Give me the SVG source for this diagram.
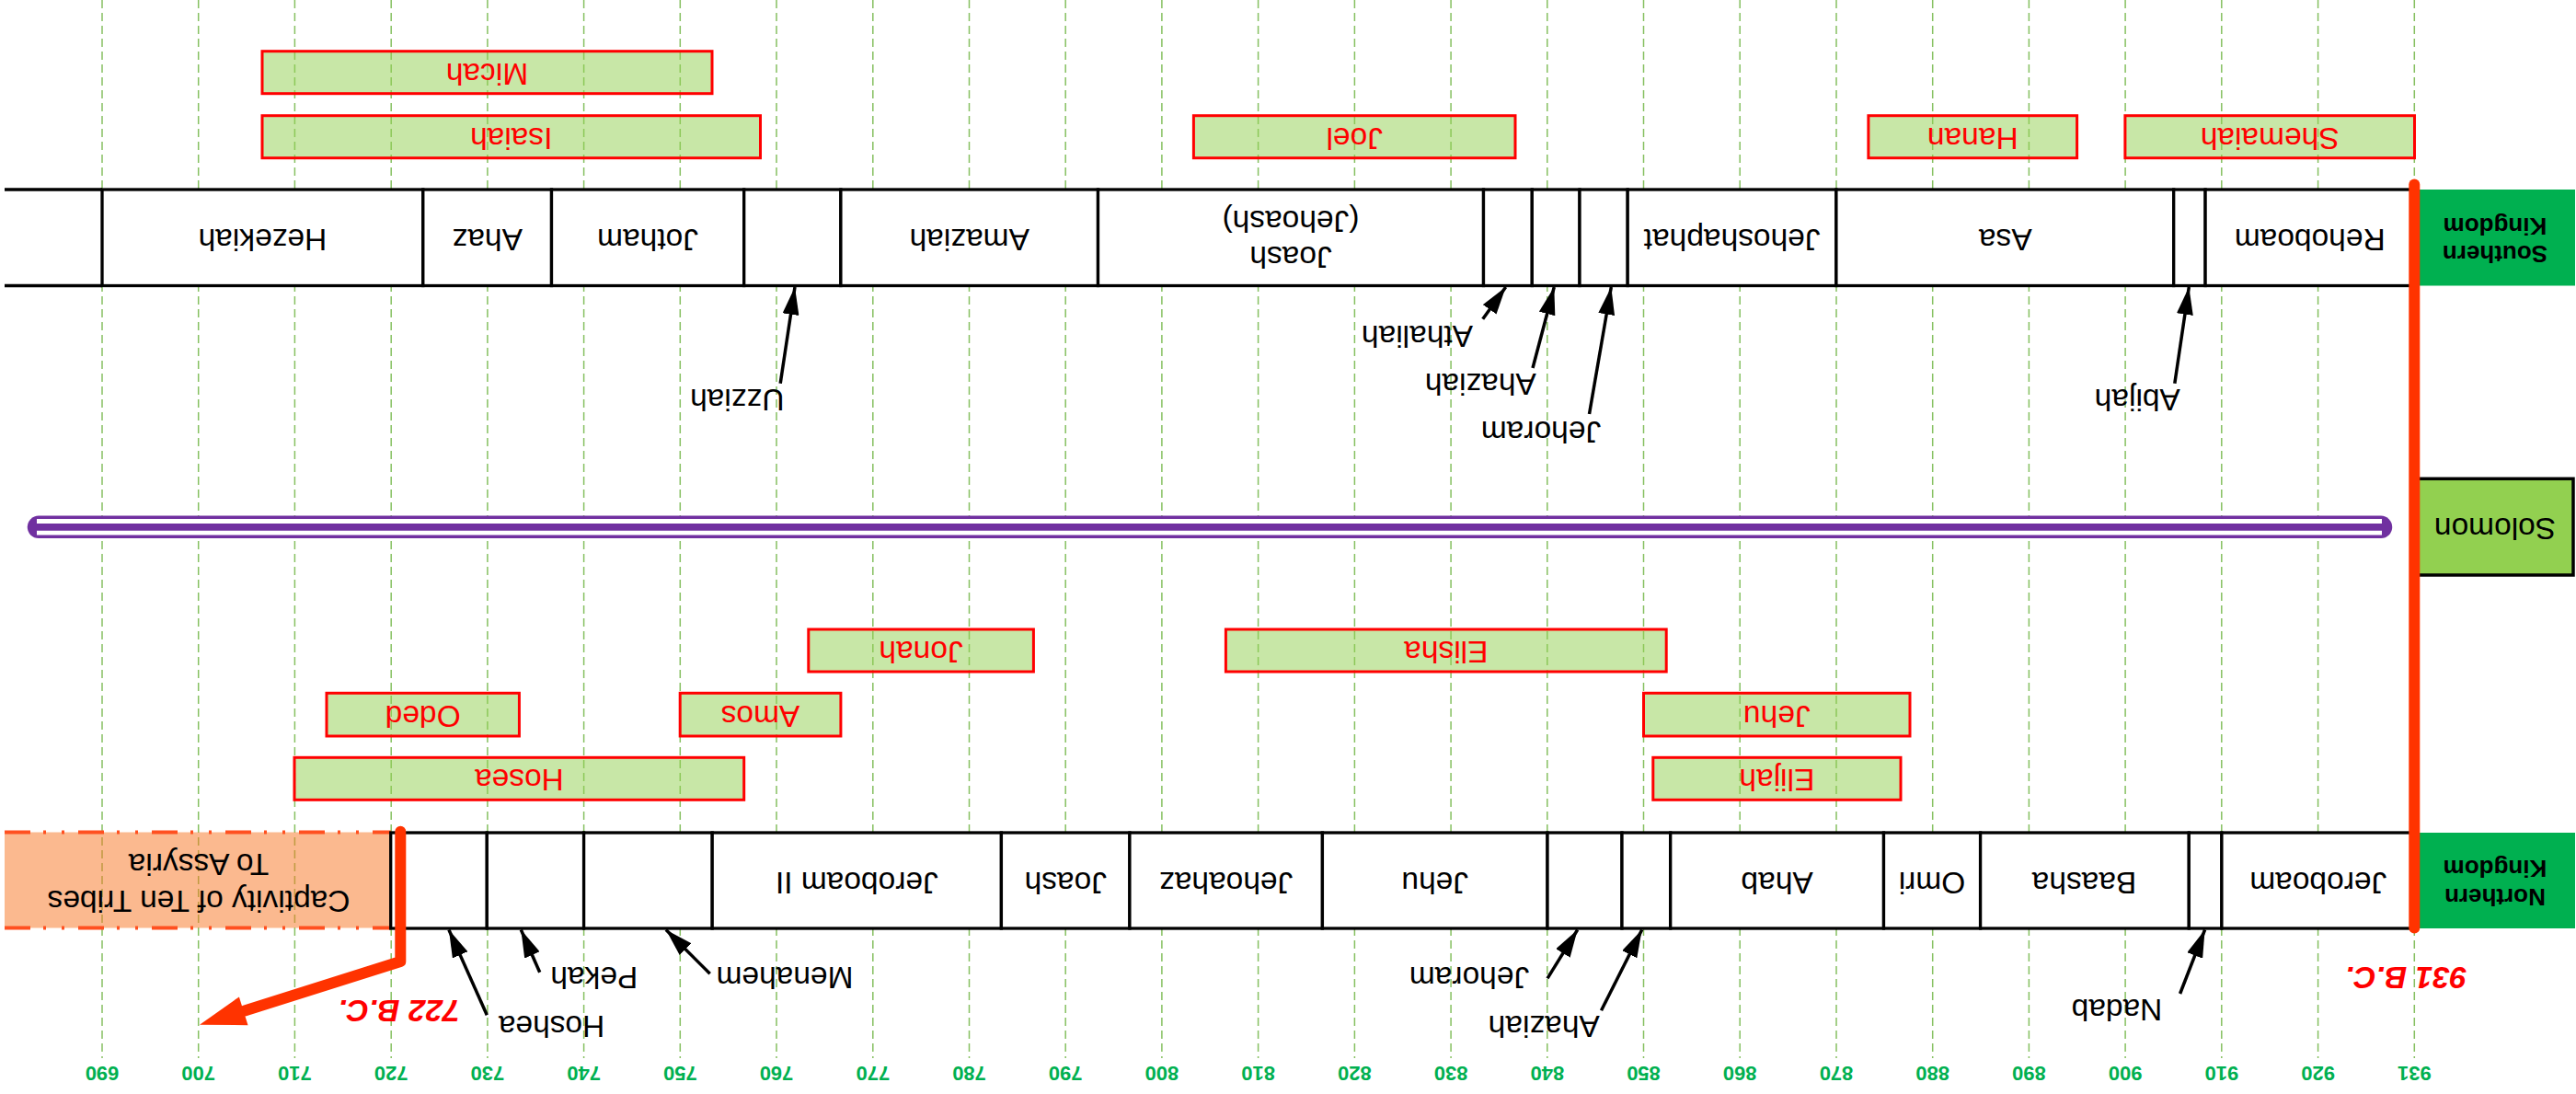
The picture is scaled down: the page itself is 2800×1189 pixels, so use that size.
<svg xmlns="http://www.w3.org/2000/svg" width="2800" height="1189" viewBox="0 0 2800 1189">
<style>
.t{font-family:"Liberation Sans",Arial,sans-serif;font-size:33.5px;text-anchor:middle;fill:#000}
.r{fill:#FF0000}
.yr{font-size:22px;font-weight:bold;fill:#00B050}
.kb{font-size:26px;font-weight:bold}
.bc{font-weight:bold;font-style:italic;fill:#FF0000}
.grid{fill:none;stroke:#86C061;stroke-width:1.5;stroke-dasharray:9 5}
.p{fill:#92D050;fill-opacity:0.5;stroke:#FF0000;stroke-width:3}
.k{fill:#fff;stroke:#000;stroke-width:3.3}
.a{stroke:#000;stroke-width:3.5;marker-end:url(#ah)}
.red{fill:none;stroke:#FF3300;stroke-width:12;stroke-linecap:round;stroke-linejoin:round}
</style>
<defs>
<marker id="ah" markerUnits="userSpaceOnUse" viewBox="0 0 30 18" markerWidth="30" markerHeight="18" refX="30" refY="9" orient="auto"><path d="M0,0 L30,9 L0,18 z" fill="#000"/></marker>
</defs>
<rect width="2800" height="1189" fill="#fff"/>

<!-- grid -->
<g id="grid">
<path class="grid" d="M111 0V1150M215.7 0V1150M320.4 0V1150M425.2 0V1150M529.9 0V1150M634.6 0V1150M739.3 0V1150M844 0V1150M948.8 0V1150M1053.5 0V1150M1158.2 0V1150M1262.9 0V1150M1367.6 0V1150M1472.4 0V1150M1577.1 0V1150M1681.8 0V1150M1786.5 0V1150M1891.2 0V1150M1996 0V1150M2100.7 0V1150M2205.4 0V1150M2310.1 0V1150M2414.8 0V1150M2519.6 0V1150M2624.3 0V1150"/>
<g class="t yr">
<text x="111" y="1174.9" transform="rotate(180 111 1167)">690</text>
<text x="215.7" y="1174.9" transform="rotate(180 215.7 1167)">700</text>
<text x="320.4" y="1174.9" transform="rotate(180 320.4 1167)">710</text>
<text x="425.2" y="1174.9" transform="rotate(180 425.2 1167)">720</text>
<text x="529.9" y="1174.9" transform="rotate(180 529.9 1167)">730</text>
<text x="634.6" y="1174.9" transform="rotate(180 634.6 1167)">740</text>
<text x="739.3" y="1174.9" transform="rotate(180 739.3 1167)">750</text>
<text x="844" y="1174.9" transform="rotate(180 844 1167)">760</text>
<text x="948.8" y="1174.9" transform="rotate(180 948.8 1167)">770</text>
<text x="1053.5" y="1174.9" transform="rotate(180 1053.5 1167)">780</text>
<text x="1158.2" y="1174.9" transform="rotate(180 1158.2 1167)">790</text>
<text x="1262.9" y="1174.9" transform="rotate(180 1262.9 1167)">800</text>
<text x="1367.6" y="1174.9" transform="rotate(180 1367.6 1167)">810</text>
<text x="1472.4" y="1174.9" transform="rotate(180 1472.4 1167)">820</text>
<text x="1577.1" y="1174.9" transform="rotate(180 1577.1 1167)">830</text>
<text x="1681.8" y="1174.9" transform="rotate(180 1681.8 1167)">840</text>
<text x="1786.5" y="1174.9" transform="rotate(180 1786.5 1167)">850</text>
<text x="1891.2" y="1174.9" transform="rotate(180 1891.2 1167)">860</text>
<text x="1996" y="1174.9" transform="rotate(180 1996 1167)">870</text>
<text x="2100.7" y="1174.9" transform="rotate(180 2100.7 1167)">880</text>
<text x="2205.4" y="1174.9" transform="rotate(180 2205.4 1167)">890</text>
<text x="2310.1" y="1174.9" transform="rotate(180 2310.1 1167)">900</text>
<text x="2414.8" y="1174.9" transform="rotate(180 2414.8 1167)">910</text>
<text x="2519.6" y="1174.9" transform="rotate(180 2519.6 1167)">920</text>
<text x="2624.3" y="1174.9" transform="rotate(180 2624.3 1167)">931</text>
</g>
</g>

<!-- prophets -->
<g id="pr-micah"><rect class="p" x="285" y="55.7" width="489" height="46"/><text class="t r" x="529.5" y="92.7" transform="rotate(180 529.5 80.7)">Micah</text></g>
<g id="pr-isaiah"><rect class="p" x="285" y="125.7" width="541.5" height="46"/><text class="t r" x="555.7" y="162.7" transform="rotate(180 555.7 150.7)">Isaiah</text></g>
<g id="pr-joel"><rect class="p" x="1297.4" y="125.7" width="349.6" height="46"/><text class="t r" x="1472.2" y="162.7" transform="rotate(180 1472.2 150.7)">Joel</text></g>
<g id="pr-hanan"><rect class="p" x="2030.9" y="125.7" width="226.7" height="46"/><text class="t r" x="2144.3" y="162.7" transform="rotate(180 2144.3 150.7)">Hanan</text></g>
<g id="pr-shemaiah"><rect class="p" x="2309.9" y="125.7" width="314.6" height="46"/><text class="t r" x="2467.2" y="162.7" transform="rotate(180 2467.2 150.7)">Shemaiah</text></g>
<g id="pr-jonah"><rect class="p" x="878.8" y="684" width="244.6" height="46"/><text class="t r" x="1001.1" y="721" transform="rotate(180 1001.1 709)">Jonah</text></g>
<g id="pr-elisha"><rect class="p" x="1332.4" y="684" width="478.8" height="46"/><text class="t r" x="1571.8" y="721" transform="rotate(180 1571.8 709)">Elisha</text></g>
<g id="pr-amos"><rect class="p" x="739.2" y="753.3" width="174.7" height="46.7"/><text class="t r" x="826.5" y="790.7" transform="rotate(180 826.5 778.7)">Amos</text></g>
<g id="pr-oded"><rect class="p" x="355" y="753.3" width="209.4" height="46.7"/><text class="t r" x="459.7" y="790.7" transform="rotate(180 459.7 778.7)">Oded</text></g>
<g id="pr-jehu"><rect class="p" x="1786.5" y="753.3" width="289.5" height="46.7"/><text class="t r" x="1931.3" y="790.7" transform="rotate(180 1931.3 778.7)">Jehu</text></g>
<g id="pr-hosea"><rect class="p" x="320" y="823.3" width="488.7" height="46"/><text class="t r" x="564.4" y="860.3" transform="rotate(180 564.4 848.3)">Hosea</text></g>
<g id="pr-elijah"><rect class="p" x="1796.8" y="823.3" width="269.2" height="46"/><text class="t r" x="1931.4" y="860.3" transform="rotate(180 1931.4 848.3)">Elijah</text></g>

<!-- captivity -->
<g id="captivity">
<rect x="5" y="904.5" width="420" height="104" fill="#F7741F" fill-opacity="0.5"/>
<path d="M5 904.5H425M5 1008.5H425" fill="none" stroke="#FF5020" stroke-width="4" stroke-dasharray="28 14 3 17 3 15"/>
<text class="t" x="216" y="992" transform="rotate(180 216 980)">Captivity of Ten Tribes</text>
<text class="t" x="216" y="952" transform="rotate(180 216 940)">To Assyria</text>
</g>

<!-- southern kingdom -->
<g id="southern-kingdom">
<rect x="2628" y="206" width="171" height="104.5" fill="#00B050"/>
<text class="t kb" x="2712" y="285.6" transform="rotate(180 2712 276.3)">Southern</text>
<text class="t kb" x="2712" y="255.3" transform="rotate(180 2712 246)">Kingdom</text>
</g>
<g id="s-start"><path d="M5 206H111M5 310.5H111" stroke="#000" stroke-width="3.3"/></g>
<g id="s-hezekiah"><rect class="k" x="111" y="206" width="348.8" height="104.5"/><text class="t" x="285.4" y="272.5" transform="rotate(180 285.4 260.5)">Hezekiah</text></g>
<g id="s-ahaz"><rect class="k" x="459.8" y="206" width="139.7" height="104.5"/><text class="t" x="529.7" y="272.5" transform="rotate(180 529.7 260.5)">Ahaz</text></g>
<g id="s-jotham"><rect class="k" x="599.5" y="206" width="209.2" height="104.5"/><text class="t" x="704.1" y="272.5" transform="rotate(180 704.1 260.5)">Jotham</text></g>
<g id="s-uzziah"><rect class="k" x="808.7" y="206" width="105.2" height="104.5"/><text class="t" x="801.3" y="447" transform="rotate(180 801.3 435)">Uzziah</text></g>
<g id="s-amaziah"><rect class="k" x="913.9" y="206" width="279.6" height="104.5"/><text class="t" x="1053.7" y="272.5" transform="rotate(180 1053.7 260.5)">Amaziah</text></g>
<g id="s-joash"><rect class="k" x="1193.5" y="206" width="419" height="104.5"/><text class="t" x="1403" y="292" transform="rotate(180 1403 280)">Joash</text><text class="t" x="1403" y="253.3" transform="rotate(180 1403 241.3)">(Jehoash)</text></g>
<g id="s-athaliah"><rect class="k" x="1612.5" y="206" width="52.8" height="104.5"/><text class="t" x="1540.5" y="377.5" transform="rotate(180 1540.5 365.5)">Athaliah</text></g>
<g id="s-ahaziah"><rect class="k" x="1665.3" y="206" width="51.7" height="104.5"/><text class="t" x="1609.3" y="430" transform="rotate(180 1609.3 418)">Ahaziah</text></g>
<g id="s-jehoram"><rect class="k" x="1717" y="206" width="52.2" height="104.5"/><text class="t" x="1675" y="482" transform="rotate(180 1675 470)">Jehoram</text></g>
<g id="s-jehoshaphat"><rect class="k" x="1769.2" y="206" width="226.7" height="104.5"/><text class="t" x="1882.6" y="272.5" transform="rotate(180 1882.6 260.5)">Jehoshaphat</text></g>
<g id="s-asa"><rect class="k" x="1995.9" y="206" width="366.8" height="104.5"/><text class="t" x="2179.8" y="272.5" transform="rotate(180 2179.8 260.5)">Asa</text></g>
<g id="s-abijah"><rect class="k" x="2362.7" y="206" width="34.4" height="104.5"/><text class="t" x="2323.3" y="446.6" transform="rotate(180 2323.3 434.6)">Abijah</text></g>
<g id="s-rehoboam"><rect class="k" x="2397.1" y="206" width="226.9" height="104.5"/><text class="t" x="2510.7" y="272.5" transform="rotate(180 2510.7 260.5)">Rehoboam</text></g>

<!-- solomon -->
<g id="solomon-bar">
<line x1="42" y1="572.8" x2="2588" y2="572.8" stroke="#7030A0" stroke-width="24.5" stroke-linecap="round"/>
<line x1="40" y1="572.8" x2="2589" y2="572.8" stroke="#fff" stroke-width="17.5"/>
<line x1="40" y1="572.8" x2="2589" y2="572.8" stroke="#7030A0" stroke-width="7.7"/>
</g>
<g id="solomon">
<rect x="2626" y="520.3" width="171" height="104.7" fill="#92D050" stroke="#000" stroke-width="3.5"/>
<text class="t" x="2712" y="587" transform="rotate(180 2712 575)">Solomon</text>
</g>

<!-- northern kingdom -->
<g id="northern-kingdom">
<rect x="2628" y="905" width="171" height="104" fill="#00B050"/>
<text class="t kb" x="2712" y="984.3" transform="rotate(180 2712 975)">Northern</text>
<text class="t kb" x="2712" y="954" transform="rotate(180 2712 944.7)">Kingdom</text>
</g>
<g id="n-hoshea"><rect class="k" x="424.7" y="905" width="104.6" height="104"/><text class="t" x="599.5" y="1127.8" transform="rotate(180 599.5 1115.8)">Hoshea</text></g>
<g id="n-pekah"><rect class="k" x="529.3" y="905" width="105.3" height="104"/><text class="t" x="645.8" y="1075.3" transform="rotate(180 645.8 1063.3)">Pekah</text></g>
<g id="n-menahem"><rect class="k" x="634.6" y="905" width="139.6" height="104"/><text class="t" x="853" y="1075.3" transform="rotate(180 853 1063.3)">Menahem</text></g>
<g id="n-jeroboam2"><rect class="k" x="774.2" y="905" width="314.2" height="104"/><text class="t" x="931.3" y="971.5" transform="rotate(180 931.3 959.5)">Jeroboam II</text></g>
<g id="n-joash"><rect class="k" x="1088.4" y="905" width="139.5" height="104"/><text class="t" x="1158.2" y="971.5" transform="rotate(180 1158.2 959.5)">Joash</text></g>
<g id="n-jehoahaz"><rect class="k" x="1227.9" y="905" width="209.5" height="104"/><text class="t" x="1332.7" y="971.5" transform="rotate(180 1332.7 959.5)">Jehoahaz</text></g>
<g id="n-jehu"><rect class="k" x="1437.4" y="905" width="244.6" height="104"/><text class="t" x="1559.7" y="971.5" transform="rotate(180 1559.7 959.5)">Jehu</text></g>
<g id="n-jehoram"><rect class="k" x="1682" y="905" width="81" height="104"/><text class="t" x="1597" y="1074.5" transform="rotate(180 1597 1062.5)">Jehoram</text></g>
<g id="n-ahaziah"><rect class="k" x="1763" y="905" width="52.7" height="104"/><text class="t" x="1678.2" y="1127.8" transform="rotate(180 1678.2 1115.8)">Ahaziah</text></g>
<g id="n-ahab"><rect class="k" x="1815.7" y="905" width="231.8" height="104"/><text class="t" x="1931.6" y="971.5" transform="rotate(180 1931.6 959.5)">Ahab</text></g>
<g id="n-omri"><rect class="k" x="2047.5" y="905" width="105.1" height="104"/><text class="t" x="2100" y="971.5" transform="rotate(180 2100 959.5)">Omri</text></g>
<g id="n-baasha"><rect class="k" x="2152.6" y="905" width="226.7" height="104"/><text class="t" x="2265.5" y="971.5" transform="rotate(180 2265.5 959.5)">Baasha</text></g>
<g id="n-nadab"><rect class="k" x="2379.3" y="905" width="35.6" height="104"/><text class="t" x="2301" y="1109.5" transform="rotate(180 2301 1097.5)">Nadab</text></g>
<g id="n-jeroboam"><rect class="k" x="2414.9" y="905" width="209.1" height="104"/><text class="t" x="2519.8" y="971.5" transform="rotate(180 2519.8 959.5)">Jeroboam</text></g>

<!-- connectors -->
<g id="connectors">
<line class="a" x1="848.2" y1="416.7" x2="864" y2="312"/>
<line class="a" x1="1611.7" y1="346.7" x2="1636.7" y2="312"/>
<line class="a" x1="1666" y1="400" x2="1689.3" y2="312"/>
<line class="a" x1="1727.5" y1="450" x2="1751.3" y2="312"/>
<line class="a" x1="2363.8" y1="416.7" x2="2379.3" y2="312"/>
<line class="a" x1="529.3" y1="1103.3" x2="487.9" y2="1010.5"/>
<line class="a" x1="586.7" y1="1056.7" x2="566.3" y2="1010.5"/>
<line class="a" x1="771.7" y1="1058.3" x2="723.9" y2="1010.5"/>
<line class="a" x1="1682" y1="1063.3" x2="1714.7" y2="1010.5"/>
<line class="a" x1="1740.5" y1="1098.3" x2="1784.7" y2="1010.5"/>
<line class="a" x1="2369.6" y1="1080" x2="2396.6" y2="1010.5"/>
<g id="split-931">
<line class="red" x1="2624.3" y1="200.5" x2="2624.3" y2="1008.5" stroke-width="13"/>
<text class="t bc" x="2615.3" y="1075.3" transform="rotate(180 2615.3 1063.3)">931 B.C.</text>
</g>
<g id="fall-722">
<path class="red" d="M435.3 903.8V1045L266 1098.5"/>
<polygon points="217,1113.8 259.9,1083.4 269.5,1114.2" fill="#FF3300"/>
<text class="t bc" x="433.7" y="1110.7" transform="rotate(180 433.7 1098.7)">722 B.C.</text>
</g>
</g>
</svg>
